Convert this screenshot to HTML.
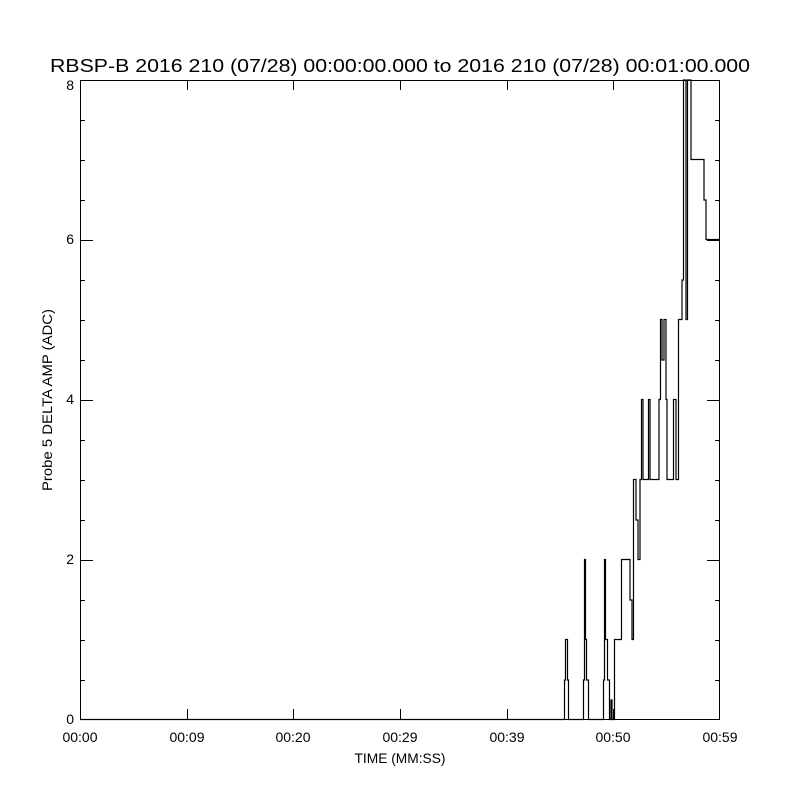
<!DOCTYPE html>
<html><head><style>body{margin:0;background:#fff}svg{display:block}text{font-family:"Liberation Sans",sans-serif;fill:#000}</style></head><body>
<svg width="800" height="800" viewBox="0 0 800 800">
<rect width="800" height="800" fill="#fff"/>
<text x="400" y="72" font-size="18" text-anchor="middle" textLength="700" lengthAdjust="spacingAndGlyphs">RBSP-B 2016 210 (07/28) 00:00:00.000 to 2016 210 (07/28) 00:01:00.000</text>
<rect x="80.5" y="80.5" width="639" height="639" fill="none" stroke="#000" stroke-width="1"/>
<g stroke="#000" stroke-width="1">
<path d="M80 719.5h13M80 640.5h5M80 560.5h13M80 480.5h5M80 400.5h13M80 320.5h5M80 240.5h13M80 160.5h5M80 80.5h13
M80 680.5h5M80 600.5h5M80 520.5h5M80 440.5h5M80 360.5h5M80 280.5h5M80 200.5h5M80 120.5h5
M720 719.5h-13M720 640.5h-5M720 560.5h-13M720 480.5h-5M720 400.5h-13M720 320.5h-5M720 240.5h-13M720 160.5h-5M720 80.5h-13
M720 680.5h-5M720 600.5h-5M720 520.5h-5M720 440.5h-5M720 360.5h-5M720 280.5h-5M720 200.5h-5M720 120.5h-5
M187.5 719v-10M293.5 719v-10M400.5 719v-10M507.5 719v-10M613.5 719v-10
M187.5 80v10M293.5 80v10M400.5 80v10M507.5 80v10M613.5 80v10"/>
</g>
<g font-size="14">
<text x="74" y="724" text-anchor="end">0</text>
<text x="74" y="564" text-anchor="end">2</text>
<text x="74" y="404" text-anchor="end">4</text>
<text x="74" y="244" text-anchor="end">6</text>
<text x="74" y="90" text-anchor="end">8</text>
<text x="80" y="742" text-anchor="middle">00:00</text>
<text x="187" y="742" text-anchor="middle">00:09</text>
<text x="293" y="742" text-anchor="middle">00:20</text>
<text x="400" y="742" text-anchor="middle">00:29</text>
<text x="507" y="742" text-anchor="middle">00:39</text>
<text x="613" y="742" text-anchor="middle">00:50</text>
<text x="720" y="742" text-anchor="middle">00:59</text>
<text x="400" y="763" text-anchor="middle" textLength="91" lengthAdjust="spacingAndGlyphs">TIME (MM:SS)</text>
<text transform="translate(52,400) rotate(-90)" text-anchor="middle" textLength="182" lengthAdjust="spacingAndGlyphs">Probe 5 DELTA AMP (ADC)</text>
</g>
<path fill="none" stroke="#000" stroke-width="1.2" d="M80 719.5H564.5V680H565.5V639.5H567.5V680H568.5V719.5
H583.5V680H584.5V559.5H585.5V639.5H586.5V680H588.5V719.5
H603.5V680H604.5V559.5H605.5V639.5H607.5V680H609.5V719.5H611V700H612V719.5H614.5V639.5H621.5V559.5H630V600H632V639.5H633.5V479.5
H636V520H638V559.5H640V479.5H641.5V399.5H643V479.5H647V479.5H648.5V399.5H650V479.5H657V479.5H659V399.5H660.5V319.5H662V360H664V319.5H666V399.5H667V479.5
H672V479.5H673.5V399.5H676V479.5H678.5V319.5H682V280H683.5V80H686V319.5H687.5V80H691V159.5H702V159.5H704V200H706V239.5H720"/>
</svg>
</body></html>
